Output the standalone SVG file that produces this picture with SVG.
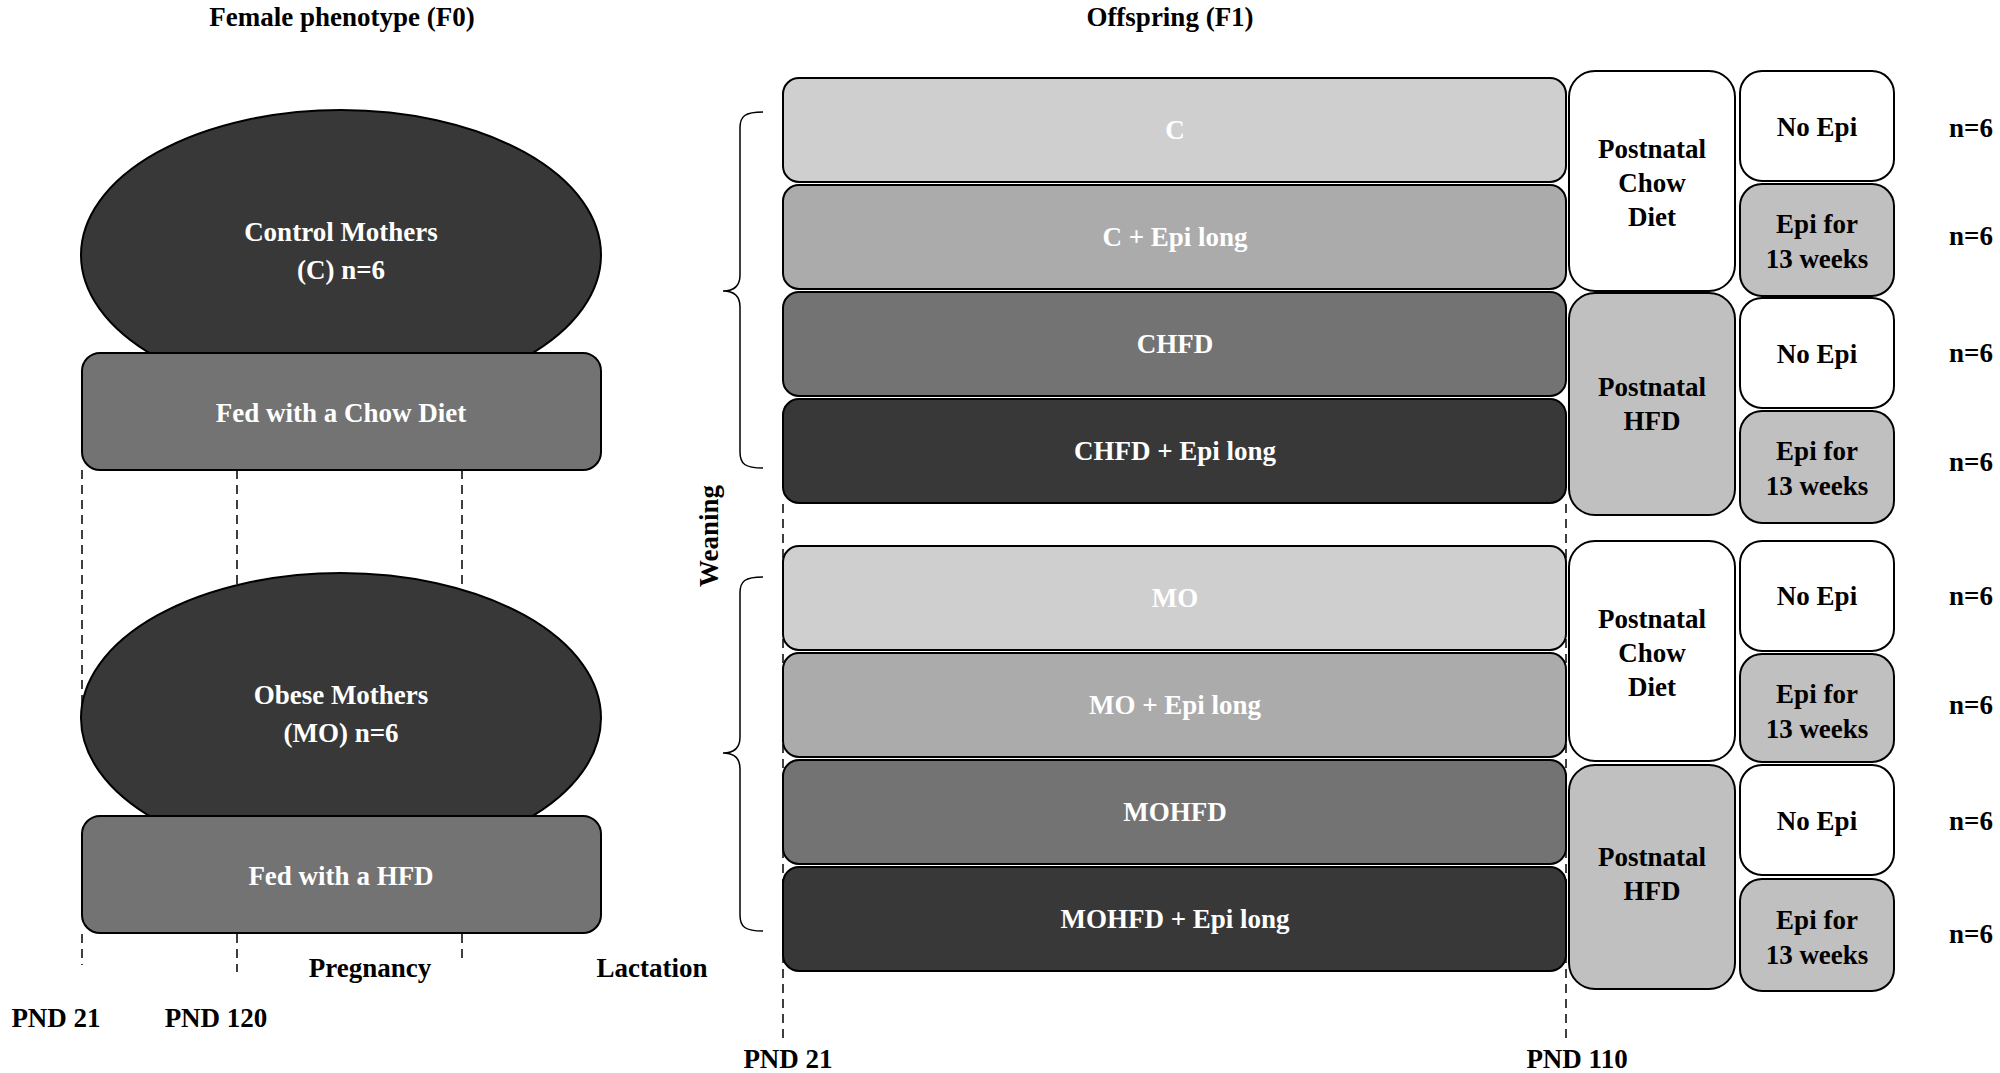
<svg xmlns="http://www.w3.org/2000/svg" width="2000" height="1073" viewBox="0 0 2000 1073">
<style>
text{font-family:"Liberation Serif","Times New Roman",serif;font-weight:bold;text-anchor:middle}
.t{font-size:27px;fill:#000}
.w{font-size:27px;fill:#fff}
.b{stroke:#000;stroke-width:2}
.d{stroke:#000;stroke-width:1.5;stroke-dasharray:9,6;fill:none}
</style>
<rect width="2000" height="1073" fill="#fff"/>
<text class="t" x="342" y="26">Female phenotype (F0)</text>
<text class="t" x="1170" y="26">Offspring (F1)</text>
<g id="connectors">
<path class="d" d="M82 470V718M237 470V585M462 470V590M82 934V965M237 934V972M462 934V958M783 504V1043M1566 504V1043"/>
<path d="M763 112C745 112 740 116 740 128V275C740 285 735 291 723 291C735 291 740 297 740 307V452C740 464 745 468 763 468" fill="none" stroke="#000" stroke-width="1.5"/>
<path d="M763 577C745 577 740 581 740 593V737C740 747 735 753 723 753C735 753 740 759 740 769V915C740 927 745 931 763 931" fill="none" stroke="#000" stroke-width="1.5"/>
</g>
<g id="control">
<ellipse class="b" cx="341" cy="255" rx="260" ry="145" fill="#383838"/>
<text class="w" x="341" y="241">Control Mothers</text>
<text class="w" x="341" y="279">(C) n=6</text>
</g>
<g id="fed-chow"><rect class="b" x="82" y="353" width="519" height="117" rx="18" fill="#737373"/><text class="w" x="341" y="422">Fed with a Chow Diet</text></g>
<g id="obese">
<ellipse class="b" cx="341" cy="718" rx="260" ry="145" fill="#383838"/>
<text class="w" x="341" y="704">Obese Mothers</text>
<text class="w" x="341" y="742">(MO) n=6</text>
</g>
<g id="fed-hfd"><rect class="b" x="82" y="816" width="519" height="117" rx="18" fill="#737373"/><text class="w" x="341" y="885">Fed with a HFD</text></g>
<text class="t" x="370" y="977">Pregnancy</text>
<text class="t" x="652" y="977">Lactation</text>
<text class="t" x="56" y="1027">PND 21</text>
<text class="t" x="216" y="1027">PND 120</text>
<text class="t" transform="translate(718 536) rotate(-90)">Weaning</text>
<g id="r-c"><rect class="b" x="783" y="78" width="783" height="104" rx="16" fill="#cfcfcf"/><text class="w" x="1175" y="139">C</text></g>
<g id="r-cepi"><rect class="b" x="783" y="185" width="783" height="104" rx="16" fill="#ababab"/><text class="w" x="1175" y="246">C + Epi long</text></g>
<g id="r-chfd"><rect class="b" x="783" y="292" width="783" height="104" rx="16" fill="#737373"/><text class="w" x="1175" y="353">CHFD</text></g>
<g id="r-chfdepi"><rect class="b" x="783" y="399" width="783" height="104" rx="16" fill="#383838"/><text class="w" x="1175" y="460">CHFD + Epi long</text></g>
<g id="r-mo"><rect class="b" x="783" y="546" width="783" height="104" rx="16" fill="#cfcfcf"/><text class="w" x="1175" y="607">MO</text></g>
<g id="r-moepi"><rect class="b" x="783" y="653" width="783" height="104" rx="16" fill="#ababab"/><text class="w" x="1175" y="714">MO + Epi long</text></g>
<g id="r-mohfd"><rect class="b" x="783" y="760" width="783" height="104" rx="16" fill="#737373"/><text class="w" x="1175" y="821">MOHFD</text></g>
<g id="r-mohfdepi"><rect class="b" x="783" y="867" width="783" height="104" rx="16" fill="#383838"/><text class="w" x="1175" y="928">MOHFD + Epi long</text></g>
<g id="p-chow1"><rect class="b" x="1569" y="71" width="166" height="220" rx="26" fill="#fff"/><text class="t" x="1652" y="158">Postnatal</text><text class="t" x="1652" y="192">Chow</text><text class="t" x="1652" y="226">Diet</text></g>
<g id="p-hfd1"><rect class="b" x="1569" y="293" width="166" height="222" rx="26" fill="#c0c0c0"/><text class="t" x="1652" y="396">Postnatal</text><text class="t" x="1652" y="430">HFD</text></g>
<g id="p-chow2"><rect class="b" x="1569" y="541" width="166" height="220" rx="26" fill="#fff"/><text class="t" x="1652" y="628">Postnatal</text><text class="t" x="1652" y="662">Chow</text><text class="t" x="1652" y="696">Diet</text></g>
<g id="p-hfd2"><rect class="b" x="1569" y="765" width="166" height="224" rx="26" fill="#c0c0c0"/><text class="t" x="1652" y="866">Postnatal</text><text class="t" x="1652" y="900">HFD</text></g>
<g id="e1"><rect class="b" x="1740" y="71" width="154" height="110" rx="22" fill="#fff"/><text class="t" x="1817" y="136">No Epi</text></g>
<g id="e2"><rect class="b" x="1740" y="184" width="154" height="112" rx="22" fill="#c0c0c0"/><text class="t" x="1817" y="233">Epi for</text><text class="t" x="1817" y="268">13 weeks</text></g>
<g id="e3"><rect class="b" x="1740" y="298" width="154" height="110" rx="22" fill="#fff"/><text class="t" x="1817" y="363">No Epi</text></g>
<g id="e4"><rect class="b" x="1740" y="411" width="154" height="112" rx="22" fill="#c0c0c0"/><text class="t" x="1817" y="460">Epi for</text><text class="t" x="1817" y="495">13 weeks</text></g>
<g id="e5"><rect class="b" x="1740" y="541" width="154" height="110" rx="22" fill="#fff"/><text class="t" x="1817" y="605">No Epi</text></g>
<g id="e6"><rect class="b" x="1740" y="654" width="154" height="108" rx="22" fill="#c0c0c0"/><text class="t" x="1817" y="703">Epi for</text><text class="t" x="1817" y="738">13 weeks</text></g>
<g id="e7"><rect class="b" x="1740" y="765" width="154" height="110" rx="22" fill="#fff"/><text class="t" x="1817" y="830">No Epi</text></g>
<g id="e8"><rect class="b" x="1740" y="879" width="154" height="112" rx="22" fill="#c0c0c0"/><text class="t" x="1817" y="929">Epi for</text><text class="t" x="1817" y="964">13 weeks</text></g>
<g class="t">
<text class="t" x="1971" y="137">n=6</text><text class="t" x="1971" y="245">n=6</text><text class="t" x="1971" y="362">n=6</text><text class="t" x="1971" y="471">n=6</text>
<text class="t" x="1971" y="605">n=6</text><text class="t" x="1971" y="714">n=6</text><text class="t" x="1971" y="830">n=6</text><text class="t" x="1971" y="943">n=6</text>
</g>
<text class="t" x="788" y="1068">PND 21</text>
<text class="t" x="1577" y="1068">PND 110</text>
</svg>
